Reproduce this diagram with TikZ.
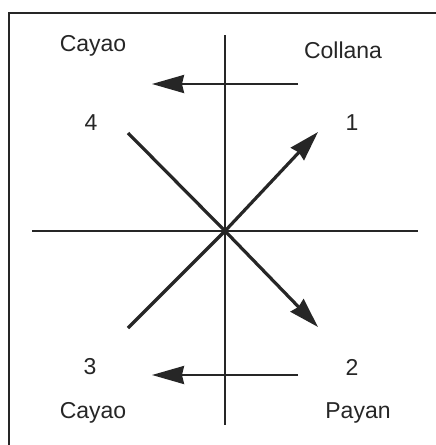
\documentclass[tikz,border=0pt]{standalone}
\usepackage{fontspec}
\setmainfont{Liberation Sans}
\usetikzlibrary{arrows.meta}
\begin{document}
\begin{tikzpicture}[x=1pt,y=-1pt,
  axis/.style={line width=2.4pt,draw=black!85},
  diag/.style={line width=3.2pt,draw=black!85},
  harrow/.style={line width=2.4pt,draw=black!85,-{Stealth[length=32pt,width=18pt,inset=2pt]}},
  darrow/.style={line width=3.2pt,draw=black!85,-{Stealth[length=30pt,width=18pt,inset=2pt]}},
  lbl/.style={font=\fontsize{23}{26}\selectfont,text=black!85,inner sep=0pt}]
\useasboundingbox (0,0) rectangle (436,445);
\fill[white] (0,0) rectangle (436,445);
% frame
\draw[line width=1.8pt,black!85] (9,445) -- (9,13) -- (436,13);
% axes
\coordinate (vt) at (225,35);
\coordinate (vb) at (225,425);
\coordinate (hl) at (32,231);
\coordinate (hr) at (418,231);
\coordinate (c) at (225,231);
\draw[axis] (vt) -- (vb);
\draw[axis] (hl) -- (hr);
% diagonals
\coordinate (p1) at (318,132);
\coordinate (p2) at (318,327);
\coordinate (p3) at (128,328);
\coordinate (p4) at (128,133);
\draw[darrow] (c) -- (p1);
\draw[darrow] (c) -- (p2);
\draw[diag] (p4) -- (c) -- (p3);
% horizontal arrows
\coordinate (ta) at (298,84);
\coordinate (tb) at (152,84);
\coordinate (ba) at (298,375);
\coordinate (bb) at (152,375);
\draw[harrow] (ta) -- (tb);
\draw[harrow] (ba) -- (bb);
% labels
\node[lbl] (cay1) at (93,46) {Cayao};
\node[lbl] (col) at (343,50) {Collana};
\node[lbl] (n4) at (91,123) {4};
\node[lbl] (n1) at (352,123) {1};
\node[lbl] (n3) at (90,367) {3};
\node[lbl] (n2) at (352,367) {2};
\node[lbl] (cay2) at (93,413) {Cayao};
\node[lbl] (pay) at (358,413) {Payan};
\end{tikzpicture}
\end{document}
